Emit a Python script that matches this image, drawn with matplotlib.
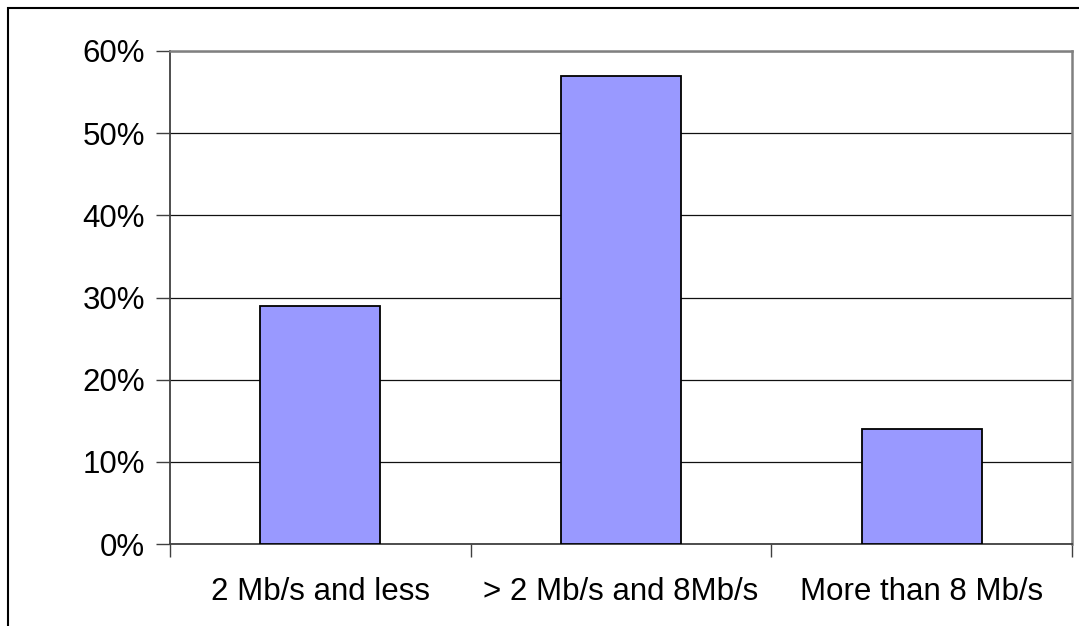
import matplotlib
matplotlib.use("Agg")
import matplotlib.pyplot as plt
from matplotlib.patches import Rectangle
from matplotlib.ticker import FixedLocator, NullFormatter, PercentFormatter

# Share of connections by access speed
categories = ["2 Mb/s and less", "> 2 Mb/s and 8Mb/s", "More than 8 Mb/s"]
shares = [29, 57, 14]
y_ticks = [0, 10, 20, 30, 40, 50, 60]

BAR = "#9999ff"
GRID = "#111111"
FRAME = "#808080"

plt.rcParams["font.family"] = ["Liberation Sans", "DejaVu Sans"]

fig = plt.figure(figsize=(10.79, 6.26), dpi=100)
ax = fig.add_axes([170 / 1079, 1 - 544 / 626, 902 / 1079, 493 / 626])

x = range(len(categories))
ax.bar(x, shares, width=0.4, color=BAR, edgecolor="black", linewidth=1.3, zorder=3)

ax.set_xlim(-0.5, len(categories) - 0.5)
ax.set_ylim(0, 60)
ax.set_yticks(y_ticks)
ax.yaxis.set_major_formatter(PercentFormatter(decimals=0))
ax.grid(axis="y", color=GRID, linewidth=0.9, zorder=0)

# category labels centred, ticks on the boundaries between categories
ax.set_xticks(list(x))
ax.set_xticklabels(categories)
ax.tick_params(axis="x", length=0, pad=24, labelsize=22.5)
ax.xaxis.set_minor_locator(FixedLocator([i - 0.5 for i in range(len(categories) + 1)]))
ax.xaxis.set_minor_formatter(NullFormatter())
ax.tick_params(axis="x", which="minor", length=9, width=1.0, color="#404040")
ax.tick_params(axis="y", length=10, width=1.0, color="#404040", pad=8, labelsize=22.5)

for side in ("left", "bottom"):
    ax.spines[side].set_color("#404040")
    ax.spines[side].set_linewidth(1.3)
for side in ("top", "right"):
    ax.spines[side].set_color(FRAME)
    ax.spines[side].set_linewidth(1.8)

# chart frame, running off the right and bottom edges
fig.patches.append(Rectangle((8 / 1079, -0.05), 1.1, 1 - 8 / 626 + 0.05,
                             transform=fig.transFigure, fill=False,
                             edgecolor="black", linewidth=1.5))

fig.savefig("out.png", dpi=100)
